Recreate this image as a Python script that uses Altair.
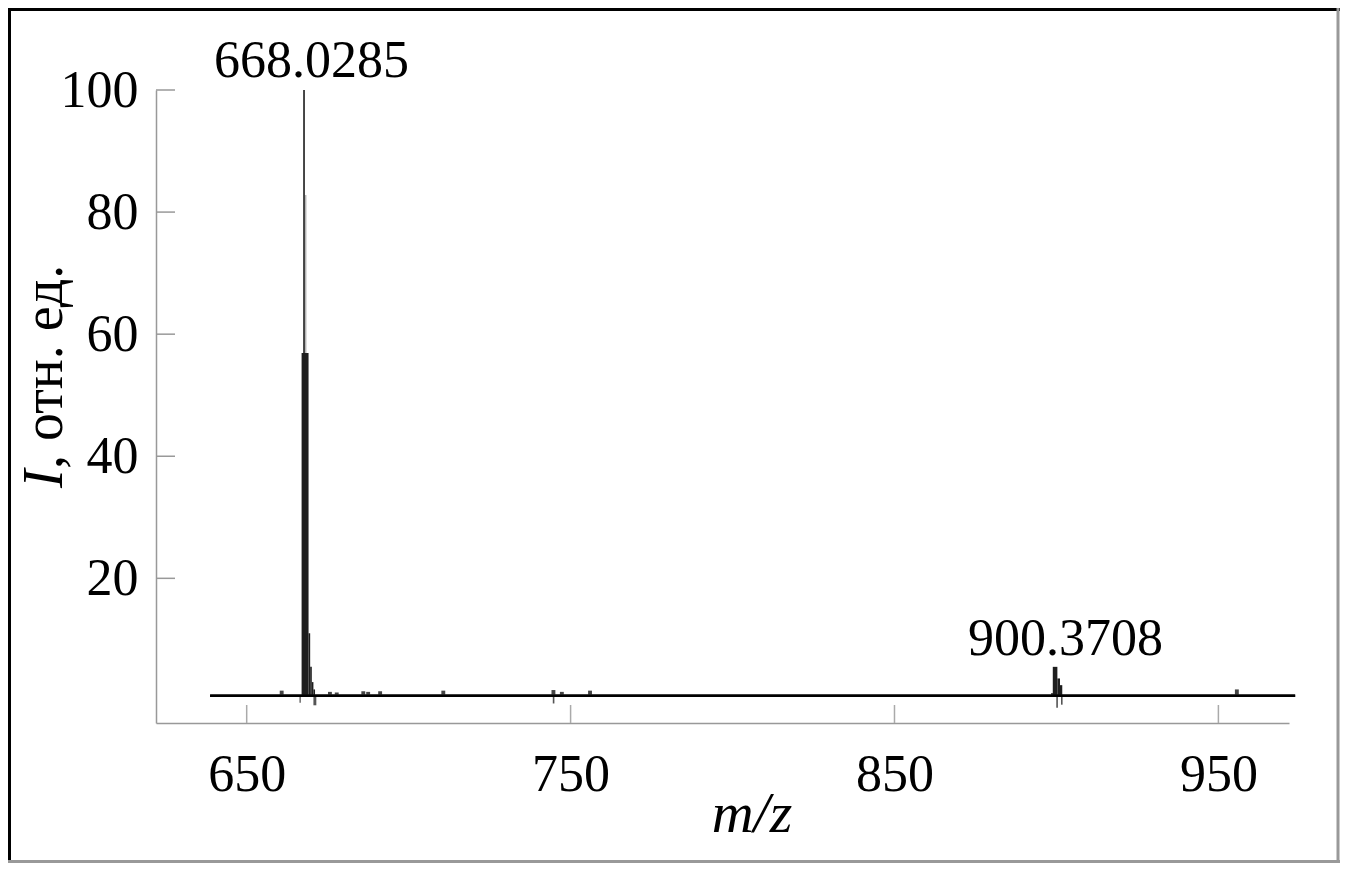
import altair as alt
import pandas as pd

# ---- data ----
X_DOMAIN = [622.0, 971.8]
Y_DOMAIN = [-3.7, 100.0]
BASE = 0.77                      # baseline level of the spectrum
BASE_FROM, BASE_TO = 638.7, 973.7

x_ticks = [650, 750, 850, 950]
y_ticks = [20, 40, 60, 80, 100]

# light grey shoulder of the main peak
grey_lo = [667.95]
grey_hi = [668.45]
grey_top = [82.8]

# dark spectrum segments (m/z from, m/z to, intensity)
dark_lo = [666.95, 667.45, 669.10, 669.60, 670.10, 670.60, 898.40, 898.87, 900.29, 901.10]
dark_hi = [669.10, 667.95, 669.60, 670.10, 670.60, 671.10, 898.87, 900.29, 901.10, 901.80]
dark_top = [56.9, 100.0, 11.0, 5.5, 3.0, 1.8, 1.2, 5.5, 3.6, 2.5]

# small peaks along the baseline
small_mz = [660.8, 675.7, 677.8, 686.0, 687.5, 691.2, 710.7, 744.7, 747.3, 756.0, 955.7]
small_top = [1.6, 1.4, 1.3, 1.5, 1.4, 1.5, 1.6, 1.7, 1.4, 1.6, 1.8]

# dips below the baseline
dip_lo = [666.3, 670.6, 744.5, 899.95, 901.4]
dip_hi = [666.7, 671.5, 745.0, 900.45, 901.9]
dip_bottom = [-0.4, -0.8, -0.5, -1.2, -0.7]

ann_text = ["668.0285", "900.3708"]
ann_x = [670.0, 902.8]
ann_y = [102.1, 7.4]

FONT = "Liberation Serif"
FS = 52
FS_YT = 56
FS_XT = 58

xs = alt.Scale(domain=X_DOMAIN, nice=False, zero=False)
ys = alt.Scale(domain=Y_DOMAIN, nice=False, zero=False)

x_axis = alt.Axis(values=x_ticks, ticks=False, tickSize=0, grid=False, title=None,
                  labelFont=FONT, labelFontSize=FS, labelColor="black",
                  labelBaseline="alphabetic", labelPadding=67,
                  domainColor="#999999", domainWidth=1.5, format="d")
y_axis = alt.Axis(values=y_ticks, ticks=False, tickSize=0, grid=False, title=None,
                  labelFont=FONT, labelFontSize=FS, labelColor="black",
                  labelBaseline="middle", labelPadding=18,
                  domainColor="#999999", domainWidth=1.5, format="d")

grey_df = pd.DataFrame({"lo": grey_lo, "hi": grey_hi, "top": grey_top, "bot": BASE})
dark_df = pd.DataFrame({"lo": dark_lo, "hi": dark_hi, "top": dark_top, "bot": BASE})
small_df = pd.DataFrame({"mz": small_mz, "top": small_top, "bot": BASE})
small_df["lo"] = small_df["mz"] - 0.6
small_df["hi"] = small_df["mz"] + 0.6
dip_df = pd.DataFrame({"lo": dip_lo, "hi": dip_hi, "top": BASE, "bot": dip_bottom})
base_df = pd.DataFrame({"x": [BASE_FROM], "x2": [BASE_TO], "y": [BASE]})
ann_df = pd.DataFrame({"t": ann_text, "x": ann_x, "y": ann_y})
xt_df = pd.DataFrame({"v": x_ticks})
yt_df = pd.DataFrame({"v": y_ticks})
one = pd.DataFrame({"a": [0]})


def rects(df, color):
    return alt.Chart(df).mark_rect(color=color).encode(
        x=alt.X("lo:Q", scale=xs, axis=x_axis),
        x2="hi:Q",
        y=alt.Y("bot:Q", scale=ys, axis=y_axis),
        y2="top:Q",
    )


axes_layer = alt.Chart(base_df).mark_rule(color="black", strokeWidth=2.5).encode(
    x=alt.X("x:Q", scale=xs, axis=x_axis),
    x2="x2:Q",
    y=alt.Y("y:Q", scale=ys, axis=y_axis),
)

xticks = alt.Chart(xt_df).mark_rule(color="#aaaaaa", strokeWidth=1.5).encode(
    x=alt.X("v:Q", scale=xs), y=alt.value(633), y2=alt.value(615))
yticks = alt.Chart(yt_df).mark_rule(color="#999999", strokeWidth=1.5).encode(
    y=alt.Y("v:Q", scale=ys), x=alt.value(0), x2=alt.value(19))

ann = alt.Chart(ann_df).mark_text(font=FONT, fontSize=FS, color="black",
                                  baseline="alphabetic", align="center").encode(
    x=alt.X("x:Q", scale=xs), y=alt.Y("y:Q", scale=ys), text="t:N")

ytitle_i = alt.Chart(one).mark_text(text="I", font=FONT, fontSize=FS_YT, fontStyle="italic",
                                    angle=270, align="left", baseline="alphabetic",
                                    color="black").encode(x=alt.value(-94), y=alt.value(398))
ytitle_rest = alt.Chart(one).mark_text(text=", отн. ед.", font=FONT, fontSize=FS_YT,
                                       angle=270, align="left", baseline="alphabetic",
                                       color="black").encode(x=alt.value(-94), y=alt.value(379))
xtitle = alt.Chart(one).mark_text(text="m/z", font=FONT, fontSize=FS_XT, fontStyle="italic",
                                  align="center", baseline="alphabetic",
                                  color="black").encode(x=alt.value(596), y=alt.value(742))

b_left = alt.Chart(one).mark_rule(color="black", strokeWidth=3).encode(
    x=alt.value(-146.5), y=alt.value(-82), y2=alt.value(773))
b_top = alt.Chart(one).mark_rule(color="black", strokeWidth=3).encode(
    y=alt.value(-80.5), x=alt.value(-148), x2=alt.value(1184))
b_right = alt.Chart(one).mark_rule(color="#999999", strokeWidth=3).encode(
    x=alt.value(1182), y=alt.value(-82), y2=alt.value(773))
b_bottom = alt.Chart(one).mark_rule(color="#999999", strokeWidth=3).encode(
    y=alt.value(771.5), x=alt.value(-148), x2=alt.value(1184))

chart = alt.layer(
    axes_layer,
    xticks, yticks,
    rects(dip_df, "#555555"),
    rects(small_df, "#444444"),
    rects(grey_df, "#b5b5b5"),
    rects(dark_df, "#1e1e1e"),
    axes_layer,
    ann, ytitle_i, ytitle_rest, xtitle,
    b_left, b_top, b_right, b_bottom,
).properties(
    width=1133, height=633,
    autosize=alt.AutoSizeParams(type="none"),
    padding={"left": 148, "top": 82, "right": 51, "bottom": 140},
).configure_view(stroke=None)

chart.save("out.html", embed_options={"renderer": "svg", "actions": False})
